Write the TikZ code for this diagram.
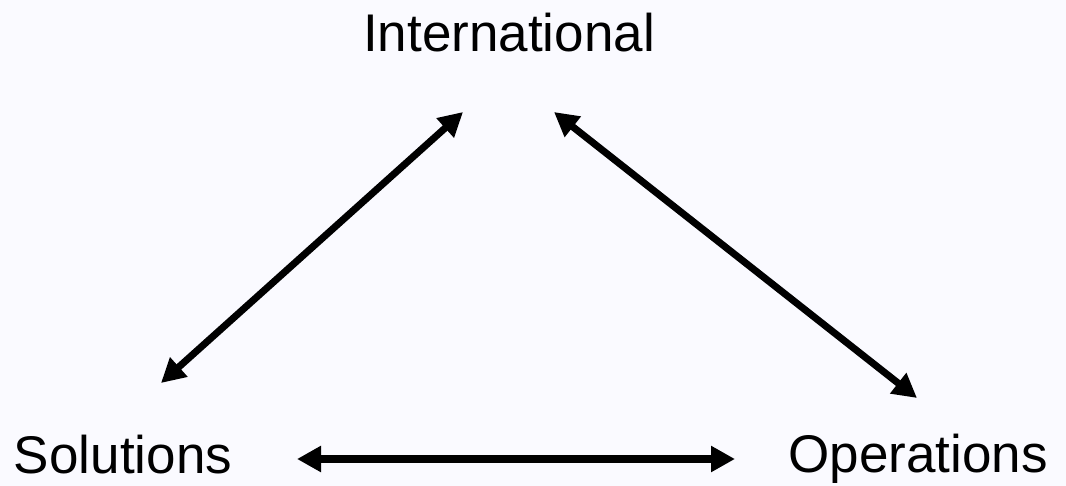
\documentclass[tikz,border=0pt]{standalone}
\usepackage{fontspec}
\setmainfont{Liberation Sans}
\usetikzlibrary{arrows.meta,calc}

\begin{document}
\begin{tikzpicture}[
  x=0.025cm, y=-0.025cm,
  font=\fontsize{37.7}{40}\selectfont,
  word/.style={anchor=base, inner sep=0pt},
  link/.style={draw=black, line width=5pt,
               {Triangle[length=0.6cm,width=0.62cm]}-{Triangle[length=0.6cm,width=0.62cm]}},
]

% ---------- background ----------
\fill[blue!2!white] (0,0) rectangle (1066,486);

% ---------- labels ----------
\node[word] (intl) at (509,52)  {International};
\node[word] (sol)  at (123,473) {Solutions};
\node[word] (ops)  at (918,472) {Operations};

% ---------- links ----------
\draw[link] ([shift={(38,-90)}]sol.base)   -- ([shift={(-46,60)}]intl.base);
\draw[link] ([shift={(45,60)}]intl.base)   -- ([shift={(-1,-74)}]ops.base);
\draw[link] ([shift={(174,-14)}]sol.base)  -- ([shift={(-183,-13)}]ops.base);

\end{tikzpicture}
\end{document}
